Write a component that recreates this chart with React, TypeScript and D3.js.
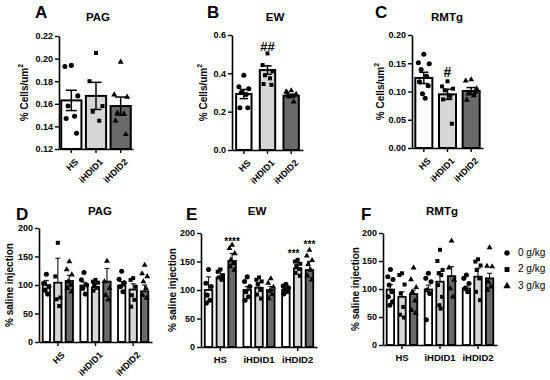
import React, { useEffect, useRef } from 'react';
import * as d3 from 'd3';

const groups = ['HS', 'iHDID1', 'iHDID2'];
const doses = ['0 g/kg', '2 g/kg', '3 g/kg'];
const fills = ['#ffffff', '#d6d6d6', '#6a6a6a'];

// top row: cell counts (mean, sem, individual points)
const pagMean = [0.163, 0.167, 0.158];
const pagSem = [0.009, 0.012, 0.008];
const pagPoints = [
  [0.194, 0.193, 0.167, 0.158, 0.149, 0.147, 0.134],
  [0.205, 0.18, 0.158, 0.153, 0.145],
  [0.197, 0.168, 0.166, 0.152, 0.151, 0.145, 0.133],
];
const pagTicks = [0.12, 0.14, 0.16, 0.18, 0.2, 0.22];

const ewMean = [0.292, 0.417, 0.283];
const ewSem = [0.024, 0.022, 0.008];
const ewPoints = [
  [0.39, 0.33, 0.32, 0.3, 0.29, 0.22, 0.22],
  [0.504, 0.443, 0.41, 0.39, 0.374, 0.344, 0.34],
  [0.31, 0.304, 0.292, 0.278, 0.252, 0.298],
];
const ewTicks = [0, 0.2, 0.4, 0.6];

const rmtgMean = [0.124, 0.095, 0.101];
const rmtgSem = [0.01, 0.009, 0.006];
const rmtgPoints = [
  [0.166, 0.151, 0.149, 0.139, 0.127, 0.117, 0.11, 0.096, 0.088],
  [0.118, 0.109, 0.105, 0.102, 0.091, 0.086, 0.043],
  [0.121, 0.119, 0.105, 0.096, 0.093, 0.085, 0.099],
];
const rmtgTicks = [0, 0.05, 0.1, 0.15, 0.2];

// bottom row: % saline injection, [group][dose]
const pagDoseMean = [[100, 104, 107], [99, 96, 106], [99, 92, 89]];
const pagDoseSem = [[8, 43, 10], [6, 8, 23], [7, 10, 11]];
const pagDosePoints = [
  [[119, 103, 97, 91, 84], [174, 115, 78, 75, 63], [141, 127, 118, 106, 100, 94, 88]],
  [[122, 109, 100, 94, 84], [109, 106, 104, 100, 95, 90], [142, 106, 94, 82, 74]],
  [[124, 110, 104, 97, 88], [112, 109, 97, 82, 74, 62], [135, 120, 115, 106, 94, 82, 77]],
];

const ewDoseMean = [[100, 122, 151], [100, 104, 100], [100, 138, 135]];
const ewDoseSem = [[23, 15, 13], [6, 9, 6], [4, 10, 15]];
const ewDosePoints = [
  [[136, 112, 106, 91, 82, 77], [136, 132, 126, 122, 118], [179, 173, 164, 153, 147, 141, 135]],
  [[123, 115, 106, 97, 88, 82], [122, 118, 115, 110, 100, 92, 85], [120, 112, 105, 98, 92, 85]],
  [[110, 107, 104, 100, 97, 93], [153, 150, 146, 142, 137, 130, 125], [170, 160, 152, 145, 135, 125, 118]],
];

const rmtgDoseMean = [[99, 86, 91], [99, 113, 123], [101, 122, 119]];
const rmtgDoseSem = [[9, 9, 7], [8, 18, 17], [4, 15, 9]];
const rmtgDosePoints = [
  [[135, 122, 117, 107, 95, 86, 77, 71], [128, 125, 108, 92, 68, 54, 49], [138, 117, 103, 95, 79, 62, 57]],
  [[128, 119, 113, 98, 92, 45], [170, 150, 134, 128, 125, 107, 86, 71, 65], [186, 138, 116, 101, 86]],
  [[125, 119, 110, 101, 95], [153, 149, 142, 134, 119, 95, 80], [174, 141, 140, 113, 104, 98]],
];
const doseTicks = [0, 50, 100, 150, 200];

const FONT = '"Liberation Sans", Arial, sans-serif';
const symbols = [d3.symbolCircle, d3.symbolSquare, d3.symbolTriangle];
const symSize = [20, 16, 15];
const jitter = [0, -1, 1, -0.5, 0.5, -0.8, 0.8, -0.25, 0.25];

const topPanels = [
  { letter: 'A', title: 'PAG', mean: pagMean, sem: pagSem, points: pagPoints, ticks: pagTicks, fmt: '.2f',
    x0: 59, x1: 133, y0: 149, y1: 36, pad: 0.18, letterX: 35, titleX: 98, labelX: 25, marks: [] as any[] },
  { letter: 'B', title: 'EW', mean: ewMean, sem: ewSem, points: ewPoints, ticks: ewTicks, fmt: '.1f',
    x0: 232, x1: 303, y0: 150, y1: 35, pad: 0.35, letterX: 207, titleX: 275, labelX: 204,
    marks: [{ g: 1, v: 0.515, t: '##', size: 13 }] },
  { letter: 'C', title: 'RMTg', mean: rmtgMean, sem: rmtgSem, points: rmtgPoints, ticks: rmtgTicks, fmt: '.2f',
    x0: 412, x1: 483, y0: 148, y1: 35, pad: 0.28, letterX: 375, titleX: 447, labelX: 381,
    marks: [{ g: 1, v: 0.125, t: '#', size: 14 }] },
];

const bottomPanels = [
  { letter: 'D', title: 'PAG', mean: pagDoseMean, sem: pagDoseSem, points: pagDosePoints,
    x0: 39, x1: 152, y0: 342, y1: 228, letterX: 16, titleX: 100, labelX: 10, rotate: true, marks: [] as any[] },
  { letter: 'E', title: 'EW', mean: ewDoseMean, sem: ewDoseSem, points: ewDosePoints,
    x0: 201, x1: 317, y0: 347, y1: 233, letterX: 186, titleX: 257, labelX: 173, rotate: false,
    marks: [{ g: 0, d: 2, v: 188, t: '****' }, { g: 2, d: 1, v: 167, t: '***', dx: -4 }, { g: 2, d: 2, v: 183, t: '***' }] },
  { letter: 'F', title: 'RMTg', mean: rmtgDoseMean, sem: rmtgDoseSem, points: rmtgDosePoints,
    x0: 383, x1: 497, y0: 345, y1: 233, letterX: 361, titleX: 442, labelX: 356, rotate: false, marks: [] as any[] },
];

const styleAxis = (g: any) => {
  g.select('.domain').attr('stroke', '#000').attr('stroke-width', 1.6);
  g.selectAll('.tick line').attr('stroke', '#000').attr('stroke-width', 1.4);
  g.selectAll('.tick text').attr('font-family', FONT).attr('font-size', 9).attr('font-weight', 'bold').attr('fill', '#000');
};

const App = () => {
  const svgRef = useRef<SVGSVGElement>(null);

  useEffect(() => {
    const svg = d3.select(svgRef.current);
    svg.selectAll('*').remove();

    // top row
    topPanels.forEach((p) => {
      const x = d3.scaleBand().domain(groups).range([p.x0, p.x1]).paddingInner(p.pad).paddingOuter(p.pad / 2);
      const y = d3.scaleLinear().domain([p.ticks[0], p.ticks[p.ticks.length - 1]]).range([p.y0, p.y1]);
      const g = svg.append('g');
      const bw = x.bandwidth();

      groups.forEach((name, i) => {
        const bx = x(name)!;
        g.append('rect')
          .attr('x', bx).attr('y', y(p.mean[i]))
          .attr('width', bw).attr('height', p.y0 - y(p.mean[i]))
          .attr('fill', fills[i]).attr('stroke', '#000').attr('stroke-width', 2);
        const cx = bx + bw / 2;
        const cap = Math.min(bw * 0.55, 12);
        const lo = y(p.mean[i] - p.sem[i]);
        const hi = y(p.mean[i] + p.sem[i]);
        g.append('line').attr('x1', cx).attr('x2', cx).attr('y1', lo).attr('y2', hi).attr('stroke', '#000').attr('stroke-width', 1.5);
        [lo, hi].forEach((yy) =>
          g.append('line').attr('x1', cx - cap / 2).attr('x2', cx + cap / 2).attr('y1', yy).attr('y2', yy).attr('stroke', '#000').attr('stroke-width', 1.5)
        );
        p.points[i].forEach((v, k) => {
          g.append('path')
            .attr('d', d3.symbol().type(symbols[i]).size(symSize[i])())
            .attr('transform', `translate(${cx + jitter[k % jitter.length] * bw * 0.32},${y(v)})`)
            .attr('fill', '#000');
        });
      });

      g.append('g').attr('transform', `translate(${p.x0},0)`)
        .call(d3.axisLeft(y).tickValues(p.ticks).tickSize(4).tickSizeOuter(0).tickPadding(2).tickFormat(d3.format(p.fmt) as any))
        .call(styleAxis);
      g.append('g').attr('transform', `translate(0,${p.y0})`)
        .call(d3.axisBottom(x).tickSize(4).tickSizeOuter(0).tickFormat(() => ''))
        .call(styleAxis);

      groups.forEach((name) => {
        const tx = x(name)! + bw / 2 + 3;
        const ty = p.y0 + 9;
        g.append('text').attr('x', tx).attr('y', ty).attr('transform', `rotate(-45,${tx},${ty})`)
          .attr('text-anchor', 'end').attr('dominant-baseline', 'hanging')
          .attr('font-family', FONT).attr('font-size', 9).attr('font-weight', 'bold').text(name);
      });

      p.marks.forEach((m: any) => {
        g.append('text').attr('x', x(groups[m.g])! + bw / 2).attr('y', y(m.v))
          .attr('text-anchor', 'middle').attr('font-family', FONT).attr('font-size', m.size).attr('font-weight', 'bold').text(m.t);
      });

      const ly = (p.y0 + p.y1) / 2;
      const lab = g.append('text').attr('transform', `translate(${p.labelX},${ly}) rotate(-90)`)
        .attr('text-anchor', 'middle').attr('dominant-baseline', 'middle')
        .attr('font-family', FONT).attr('font-size', 10).attr('font-weight', 'bold');
      lab.append('tspan').text('% Cells/um');
      lab.append('tspan').attr('font-size', 7).attr('dy', -4).text('2');

      g.append('text').attr('x', p.titleX).attr('y', 21).attr('text-anchor', 'middle')
        .attr('font-family', FONT).attr('font-size', 11.5).attr('font-weight', 'bold').text(p.title);
      g.append('text').attr('x', p.letterX).attr('y', 18)
        .attr('font-family', FONT).attr('font-size', 17).attr('font-weight', 'bold').text(p.letter);
    });

    // bottom row
    bottomPanels.forEach((p) => {
      const x = d3.scaleBand().domain(groups).range([p.x0, p.x1]).paddingInner(0).paddingOuter(0);
      const xi = d3.scaleBand().domain(doses).range([0, x.bandwidth()]).paddingInner(0.36).paddingOuter(0.32);
      const y = d3.scaleLinear().domain([0, 200]).range([p.y0, p.y1]);
      const g = svg.append('g');
      const bw = xi.bandwidth();

      groups.forEach((name, i) => {
        doses.forEach((dose, j) => {
          const bx = x(name)! + xi(dose)!;
          const cx = bx + bw / 2;
          const m = p.mean[i][j];
          g.append('rect')
            .attr('x', bx).attr('y', y(m)).attr('width', bw).attr('height', p.y0 - y(m))
            .attr('fill', fills[j]).attr('stroke', '#000').attr('stroke-width', 1.8);
          const hi = y(m + p.sem[i][j]);
          g.append('line').attr('x1', cx).attr('x2', cx).attr('y1', y(m)).attr('y2', hi).attr('stroke', '#222').attr('stroke-width', 1.2);
          g.append('line').attr('x1', cx - 2.5).attr('x2', cx + 2.5).attr('y1', hi).attr('y2', hi).attr('stroke', '#222').attr('stroke-width', 1.2);
          p.points[i][j].forEach((v, k) => {
            g.append('path')
              .attr('d', d3.symbol().type(symbols[j]).size(symSize[j])())
              .attr('transform', `translate(${cx + jitter[k % jitter.length] * bw * 0.35},${y(v)})`)
              .attr('fill', '#000');
          });
        });
      });

      g.append('g').attr('transform', `translate(${p.x0},0)`)
        .call(d3.axisLeft(y).tickValues(doseTicks).tickSize(4).tickSizeOuter(0).tickPadding(2).tickFormat(d3.format('d') as any))
        .call(styleAxis);
      g.append('g').attr('transform', `translate(0,${p.y0})`)
        .call(d3.axisBottom(x).tickSize(4).tickSizeOuter(0).tickFormat(() => ''))
        .call(styleAxis);

      groups.forEach((name) => {
        const cx = x(name)! + x.bandwidth() / 2;
        if (p.rotate) {
          const tx = cx + 3;
          const ty = p.y0 + 9;
          g.append('text').attr('x', tx).attr('y', ty).attr('transform', `rotate(-45,${tx},${ty})`)
            .attr('text-anchor', 'end').attr('dominant-baseline', 'hanging')
            .attr('font-family', FONT).attr('font-size', 9).attr('font-weight', 'bold').text(name);
        } else {
          g.append('text').attr('x', cx).attr('y', p.y0 + 16).attr('text-anchor', 'middle')
            .attr('font-family', FONT).attr('font-size', 9.5).attr('font-weight', 'bold').text(name);
        }
      });

      p.marks.forEach((mk: any) => {
        const cx = x(groups[mk.g])! + xi(doses[mk.d])! + bw / 2 + (mk.dx || 0);
        g.append('text').attr('x', cx).attr('y', y(mk.v) + 5).attr('text-anchor', 'middle')
          .attr('font-family', FONT).attr('font-size', 10).attr('font-weight', 'bold').text(mk.t);
      });

      g.append('text').attr('transform', `translate(${p.labelX},${(p.y0 + p.y1) / 2}) rotate(-90)`)
        .attr('text-anchor', 'middle').attr('dominant-baseline', 'middle')
        .attr('font-family', FONT).attr('font-size', 10).attr('font-weight', 'bold').text('% saline injection');

      g.append('text').attr('x', p.titleX).attr('y', 215).attr('text-anchor', 'middle')
        .attr('font-family', FONT).attr('font-size', 11.5).attr('font-weight', 'bold').text(p.title);
      g.append('text').attr('x', p.letterX).attr('y', 220)
        .attr('font-family', FONT).attr('font-size', 17).attr('font-weight', 'bold').text(p.letter);
    });

    // legend
    const lg = svg.append('g');
    doses.forEach((d, j) => {
      const ly = 253 + j * 16.5;
      lg.append('path').attr('d', d3.symbol().type(symbols[j]).size(24)()).attr('transform', `translate(507,${ly})`).attr('fill', '#000');
      lg.append('text').attr('x', 518).attr('y', ly).attr('dominant-baseline', 'middle')
        .attr('font-family', FONT).attr('font-size', 10).text(d);
    });
  }, []);

  return (
    <div style={{ position: 'absolute', left: 0, top: 0, width: 550, height: 380, background: '#fff' }}>
      <svg ref={svgRef} width={550} height={380} style={{ display: 'block' }}></svg>
    </div>
  );
};

export default App;
